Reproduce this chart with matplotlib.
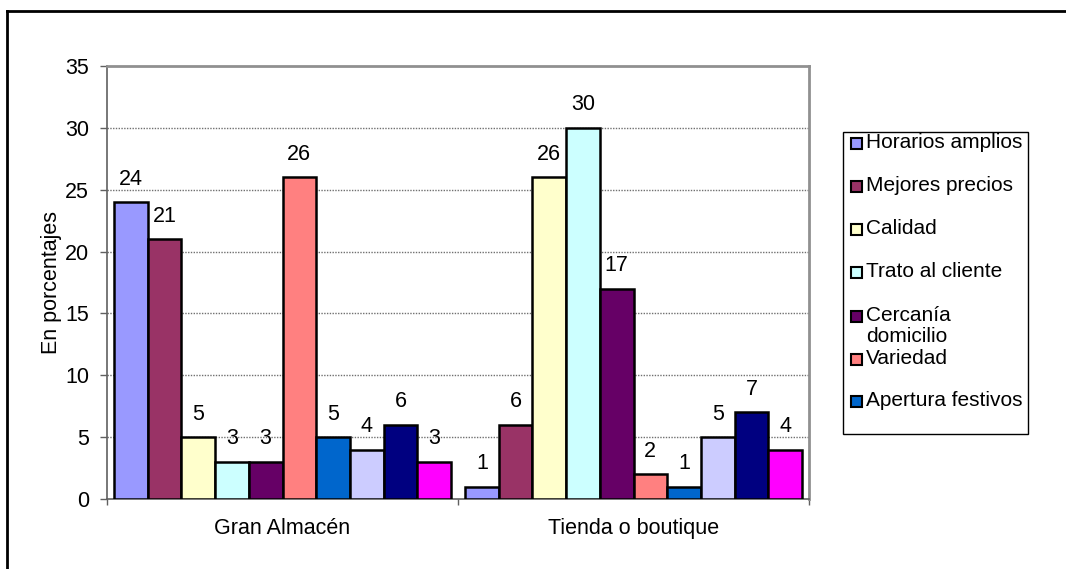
import matplotlib.pyplot as plt
from matplotlib.patches import Rectangle
from matplotlib.lines import Line2D
import numpy as np

plt.rcParams['font.family'] = ['Liberation Sans', 'DejaVu Sans']

categories = ["Gran Almacén", "Tienda o boutique"]
# only the first 7 series are named in the (truncated) legend of the original
legend_names = ["Horarios amplios", "Mejores precios", "Calidad", "Trato al cliente",
                "Cercanía\ndomicilio", "Variedad", "Apertura festivos"]
gran_almacen = [24, 21, 5, 3, 3, 26, 5, 4, 6, 3]
tienda = [1, 6, 26, 30, 17, 2, 1, 5, 7, 4]
colors = ["#9999FF", "#993366", "#FFFFCC", "#CCFFFF", "#660066",
          "#FF8080", "#0066CC", "#CCCCFF", "#000080", "#FF00FF"]

W, H = 1066, 569
fs = 15.5

def fx(x):
    return x / W

def fy(y):
    return 1 - y / H

fig = plt.figure(figsize=(W / 100, H / 100), dpi=100)
ax = fig.add_axes([fx(107), fy(499), fx(809 - 107), (499 - 66) / H])

vals = np.array([gran_almacen, tienda])
nser = vals.shape[1]
bw = 0.096
for i in range(nser):
    xs = np.arange(len(categories)) - 0.48 + (i + 0.5) * bw
    ax.bar(xs, vals[:, i], width=bw, color=colors[i], edgecolor="black",
           linewidth=1.8, zorder=3)
    for x, v in zip(xs, vals[:, i]):
        ax.annotate(str(v), (x, v), xytext=(0, 9), textcoords="offset points",
                    ha="center", va="bottom", fontsize=fs)

ax.set_xlim(-0.5, 1.5)
ax.set_ylim(0, 35)
ax.set_yticks(range(0, 36, 5))
ax.tick_params(axis="y", labelsize=fs, length=5, width=1, color="#606060", pad=8)
ax.set_xticks([-0.5, 0.5, 1.5])
ax.set_xticklabels([])
ax.tick_params(axis="x", which="major", length=4.5, width=1, color="#606060")
ax.set_xticks([0, 1], minor=True)
ax.set_xticklabels(categories, minor=True, fontsize=fs)
ax.tick_params(axis="x", which="minor", length=0, pad=14)

for y in range(5, 35, 5):
    ax.axhline(y, color="#707070", linestyle=(0, (1, 1)), linewidth=1, zorder=1)

for s in ["left", "bottom"]:
    ax.spines[s].set_color("#606060")
    ax.spines[s].set_linewidth(1.2)
for s in ["top", "right"]:
    ax.spines[s].set_color("#909090")
    ax.spines[s].set_linewidth(2)

ax.set_ylabel("En porcentajes", fontsize=fs, labelpad=2)

# outer chart frame (cut at right and bottom)
fig.add_artist(Line2D([fx(7), 1], [fy(11), fy(11)], color="black", lw=2))
fig.add_artist(Line2D([fx(7), fx(7)], [fy(11), 0], color="black", lw=2))

# legend (truncated like the original)
fig.add_artist(Rectangle((fx(843), fy(434)), fx(1028 - 843), (434 - 132) / H,
                         facecolor="white", edgecolor="black", lw=1))
ys = [143, 186, 229, 272, 316, 359, 401]
for name, c, y in zip(legend_names, colors, ys):
    fig.add_artist(Rectangle((fx(851), fy(y + 6)), fx(11), 11 / H,
                             facecolor=c, edgecolor="black", lw=1.5))
    fig.text(fx(866), fy(y - 10), name, fontsize=15, ha="left", va="top",
             linespacing=1.15)

fig.savefig("out.png", dpi=100)
